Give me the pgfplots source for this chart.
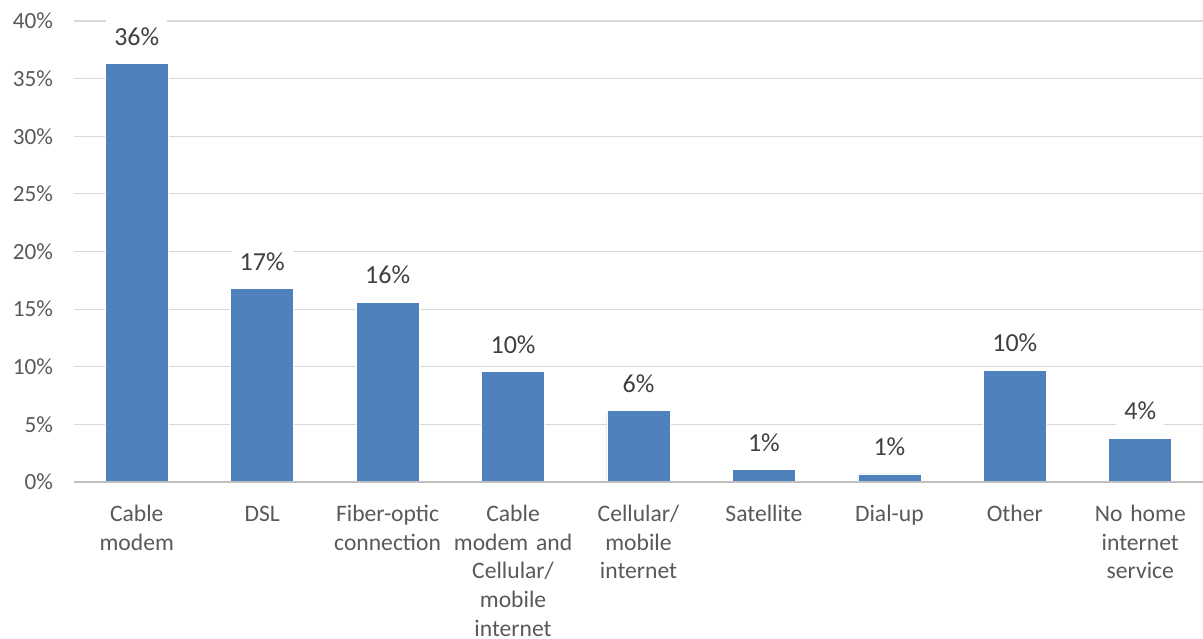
\documentclass[border=0pt]{standalone}
\usepackage{fontspec}
\setmainfont{Carlito}
\usepackage{pgfplots}
\pgfplotsset{compat=1.18}
\definecolor{barblue}{HTML}{4F81BD}
\definecolor{gridgray}{HTML}{D9D9D9}
\definecolor{axisgray}{HTML}{BFBFBF}
\definecolor{ticktext}{HTML}{595959}
\definecolor{labeltext}{HTML}{404040}
\begin{document}
\begin{tikzpicture}
\begin{axis}[
  at={(0,0)}, anchor=south west,
  scale only axis,
  width=564.5bp, height=230.5bp,
  ymin=0, ymax=40,
  xmin=-0.5, xmax=8.5,
  ytick={0,5,...,40},
  yticklabel={\pgfmathprintnumber{\tick}\%},
  /pgf/number format/assume math mode=true,
  xtick={0,...,8},
  xticklabels={{Cable\\modem},{DSL},{Fiber-optic\\connection},{Cable\\modem and\\Cellular/\\mobile\\internet},{Cellular/\\mobile\\internet},{Satellite},{Dial-up},{Other},{No home\\internet\\service}},
  major tick length=0pt,
  ymajorgrids,
  grid style={gridgray, line width=0.6bp},
  axis line style={draw=none},
  axis x line*=bottom,
  axis y line*=left,
  yticklabel style={font=\fontsize{11.6bp}{14bp}\selectfont, text=ticktext, xshift=-7bp},
  xticklabel style={font=\fontsize{11.8bp}{14.35bp}\selectfont, text=ticktext, align=center, text width=64bp, anchor=base, yshift=-19.7bp, inner sep=0pt},
  ybar, bar width=31.5bp,
  nodes near coords={\pgfmathprintnumber[fixed,precision=0]{\pgfplotspointmeta}\%},
  every node near coord/.append style={font=\fontsize{13bp}{15bp}\selectfont, text=labeltext, fill=white, inner sep=4bp, text depth=0pt, anchor=south, yshift=5bp},
  clip=false,
]
\addplot[fill=barblue, draw=white, line width=0.3bp] coordinates {
(0,36.3) (1,16.8) (2,15.6) (3,9.6) (4,6.2) (5,1.1) (6,0.7) (7,9.7) (8,3.8)};
\draw[axisgray, line width=1.1bp] (rel axis cs:0,0) -- (rel axis cs:1,0);
\end{axis}
\pgfresetboundingbox
\path (-37bp,-78.5bp) rectangle (564.5bp,241bp);
\end{tikzpicture}
\end{document}
